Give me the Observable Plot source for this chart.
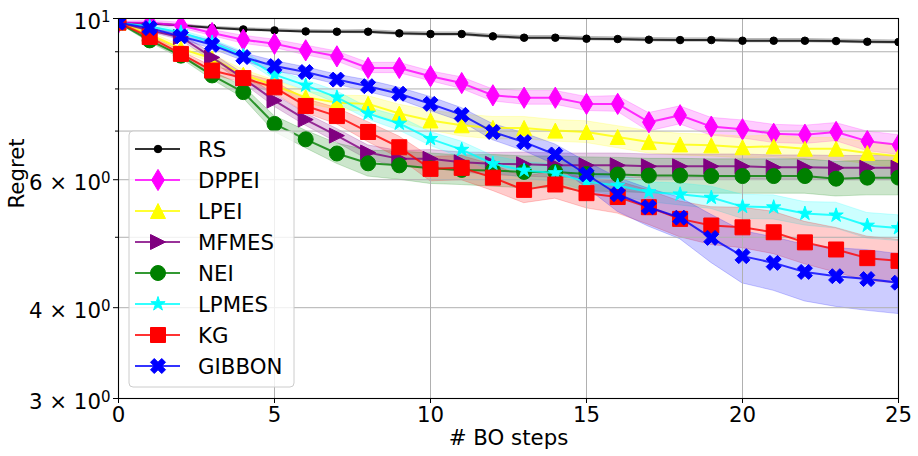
<!DOCTYPE html>
<html><head><meta charset="utf-8">
<script src="https://cdn.jsdelivr.net/npm/d3@7"></script>
<script src="https://cdn.jsdelivr.net/npm/@observablehq/plot@0.6"></script>
<style>
body{margin:0;background:#fff;}
#chart{width:918px;height:456px;}
</style></head><body><div id="chart"></div>
<script>
// ---- data ----
const steps = [0,1,2,3,4,5,6,7,8,9,10,11,12,13,14,15,16,17,18,19,20,21,22,23,24,25];
const seriesNames = ["RS","DPPEI","LPEI","MFMES","NEI","LPMES","KG","GIBBON"];

const rsRegret     = [9.87,9.84,9.78,9.71,9.66,9.63,9.60,9.59,9.59,9.54,9.52,9.52,9.45,9.41,9.41,9.38,9.37,9.35,9.34,9.34,9.32,9.32,9.32,9.31,9.29,9.28];
const dppeiRegret  = [9.87,9.87,9.78,9.55,9.35,9.23,9.04,8.87,8.55,8.55,8.33,8.15,7.84,7.78,7.78,7.63,7.63,7.20,7.36,7.10,7.04,6.94,6.92,6.98,6.78,6.70];
const lpeiRegret   = [9.87,9.51,9.09,8.81,8.37,8.09,7.79,7.66,7.63,7.40,7.24,7.13,7.07,7.07,7.01,6.98,6.87,6.76,6.71,6.69,6.65,6.67,6.62,6.62,6.53,6.46];
const mfmesRegret  = [9.87,9.63,9.43,8.84,8.27,7.71,7.26,6.90,6.54,6.41,6.41,6.34,6.31,6.30,6.28,6.28,6.28,6.26,6.26,6.26,6.26,6.24,6.24,6.23,6.23,6.23];
const neiRegret    = [9.87,9.33,8.89,8.35,7.92,7.16,6.82,6.52,6.32,6.28,6.22,6.19,6.18,6.15,6.15,6.11,6.10,6.08,6.08,6.07,6.07,6.07,6.07,6.02,6.04,6.04];
const lpmesRegret  = [9.87,9.75,9.57,9.27,8.89,8.37,8.09,7.79,7.40,7.17,6.83,6.60,6.31,6.18,6.13,5.96,5.89,5.77,5.73,5.67,5.51,5.50,5.39,5.36,5.19,5.15];
const kgRegret     = [9.87,9.43,8.94,8.48,8.28,8.04,7.58,7.34,6.98,6.65,6.21,6.23,6.04,5.81,5.91,5.75,5.68,5.50,5.30,5.19,5.16,5.08,4.92,4.81,4.68,4.64];
const gibbonRegret = [9.87,9.70,9.45,9.20,8.85,8.60,8.44,8.24,8.07,7.88,7.63,7.37,6.98,6.76,6.50,6.10,5.73,5.50,5.32,4.99,4.71,4.61,4.48,4.42,4.38,4.33];

const rsStd     = [0.01,0.02,0.03,0.03,0.04,0.04,0.04,0.04,0.05,0.05,0.05,0.05,0.05,0.05,0.05,0.05,0.05,0.05,0.05,0.05,0.05,0.05,0.05,0.05,0.05,0.05];
const dppeiStd  = [0.03,0.06,0.09,0.09,0.12,0.12,0.14,0.14,0.14,0.14,0.13,0.15,0.15,0.17,0.17,0.17,0.19,0.21,0.21,0.20,0.20,0.20,0.20,0.20,0.21,0.21];
const lpeiStd   = [0.03,0.06,0.09,0.11,0.13,0.13,0.15,0.17,0.19,0.21,0.23,0.25,0.25,0.25,0.24,0.24,0.24,0.24,0.23,0.23,0.23,0.23,0.23,0.23,0.23,0.23];
const mfmesStd  = [0.03,0.06,0.09,0.11,0.13,0.15,0.14,0.15,0.15,0.16,0.18,0.20,0.22,0.24,0.24,0.24,0.24,0.24,0.24,0.24,0.24,0.24,0.24,0.24,0.24,0.24];
const neiStd    = [0.03,0.06,0.08,0.11,0.15,0.18,0.19,0.21,0.26,0.28,0.30,0.29,0.31,0.31,0.31,0.33,0.33,0.33,0.33,0.33,0.33,0.33,0.33,0.33,0.33,0.33];
const lpmesStd  = [0.03,0.06,0.06,0.09,0.11,0.13,0.13,0.15,0.14,0.16,0.15,0.17,0.16,0.16,0.17,0.17,0.19,0.18,0.20,0.20,0.21,0.21,0.20,0.22,0.21,0.21];
const kgStd     = [0.03,0.06,0.08,0.11,0.13,0.15,0.17,0.19,0.22,0.23,0.24,0.24,0.25,0.24,0.26,0.27,0.29,0.30,0.30,0.31,0.33,0.34,0.33,0.34,0.33,0.32];
const gibbonStd = [0.03,0.06,0.09,0.12,0.11,0.14,0.13,0.13,0.15,0.15,0.17,0.16,0.18,0.19,0.21,0.25,0.31,0.33,0.35,0.38,0.39,0.39,0.40,0.41,0.42,0.41];

const xTicks = [0,5,10,15,20,25];
const yMajorTicks = [3,4,6,10];
const yMinorTicks = [5,7,8,9];
const yGrid = [3,4,5,6,7,8,9,10];

// ---- styles ----
const FS = 21.3;
const seriesColors = ["black","magenta","yellow","purple","green","cyan","red","blue"];
function rOf(s){return Math.sqrt(s/Math.PI);}
const SYM = {
  circle:{draw(c,s){const r=rOf(s);c.moveTo(r,0);c.arc(0,0,r,0,2*Math.PI);c.closePath();}},
  thinDiamond:{draw(c,s){const r=rOf(s);const h=1.4142*r,w=0.6*h;c.moveTo(0,-h);c.lineTo(w,0);c.lineTo(0,h);c.lineTo(-w,0);c.closePath();}},
  triUp:{draw(c,s){const r=rOf(s);c.moveTo(0,-r);c.lineTo(r,r);c.lineTo(-r,r);c.closePath();}},
  triRight:{draw(c,s){const r=rOf(s);c.moveTo(r,0);c.lineTo(-r,r);c.lineTo(-r,-r);c.closePath();}},
  star:{draw(c,s){const r=rOf(s);for(let k=0;k<10;k++){const a=-Math.PI/2+k*Math.PI/5;const rr=k%2?r*0.381966:r;const x=rr*Math.cos(a),y=rr*Math.sin(a);k?c.lineTo(x,y):c.moveTo(x,y);}c.closePath();}},
  square:{draw(c,s){const r=rOf(s);c.rect(-r,-r,2*r,2*r);}},
  xFilled:{draw(c,s){const r=rOf(s);const p=[[-0.5,-1],[0,-0.5],[0.5,-1],[1,-0.5],[0.5,0],[1,0.5],[0.5,1],[0,0.5],[-0.5,1],[-1,0.5],[-0.5,0],[-1,-0.5]];p.forEach(([x,y],k)=>k?c.lineTo(x*r,y*r):c.moveTo(x*r,y*r));c.closePath();}}
};
const seriesSymbols = [SYM.circle,SYM.thinDiamond,SYM.triUp,SYM.triRight,SYM.circle,SYM.star,SYM.square,SYM.xFilled];
const seriesRadii = [3.75,7.5,7.5,7.5,7.5,7.5,7.5,7.5];

const meanArrays = [rsRegret,dppeiRegret,lpeiRegret,mfmesRegret,neiRegret,lpmesRegret,kgRegret,gibbonRegret];
const stdArrays = [rsStd,dppeiStd,lpeiStd,mfmesStd,neiStd,lpmesStd,kgStd,gibbonStd];

const rows = seriesNames.flatMap((name,k)=>steps.map((s,i)=>({series:name, step:s, mean:meanArrays[k][i], std:stdArrays[k][i]})));

const marks = [];
seriesNames.forEach((name,k)=>{
  const d = rows.filter(r=>r.series===name);
  marks.push(Plot.areaY(d,{x:"step", y1:r=>r.mean-r.std, y2:r=>r.mean+r.std, fill:seriesColors[k], fillOpacity:0.2, stroke:seriesColors[k], strokeOpacity:0.2, strokeWidth:1, clip:true}));
});
marks.push(Plot.gridX({ticks:xTicks, stroke:"#b0b0b0", strokeOpacity:1, strokeWidth:1}));
marks.push(Plot.gridY({ticks:yGrid, stroke:"#b0b0b0", strokeOpacity:1, strokeWidth:1}));
seriesNames.forEach((name,k)=>{
  const d = rows.filter(r=>r.series===name);
  marks.push(Plot.line(d,{x:"step", y:"mean", stroke:seriesColors[k], strokeWidth:2, strokeOpacity:0.8, clip:true}));
  marks.push(Plot.dot(d,{x:"step", y:"mean", symbol:seriesSymbols[k], r:seriesRadii[k], fill:seriesColors[k], stroke:seriesColors[k], strokeWidth:1, clip:true}));
});
marks.push(Plot.frame({stroke:"black", strokeWidth:1.1}));
marks.push(Plot.axisX({ticks:xTicks, tickSize:5, tickPadding:3, fontSize:FS, label:null}));
marks.push(Plot.axisY({ticks:yMajorTicks, tickSize:5, tickPadding:3, fontSize:FS, label:null,
  tickFormat:d=> d===10 ? "10^1" : `${d} × 10^0`}));
marks.push(Plot.axisY({ticks:yMinorTicks, tickSize:3, tickFormat:()=>"", label:null}));
marks.push(Plot.text(["# BO steps"],{text:d=>d, frameAnchor:"bottom", dy:40, fontSize:FS, lineAnchor:"middle"}));
marks.push(Plot.text(["Regret"],{text:d=>d, frameAnchor:"left", dx:-101, rotate:-90, fontSize:FS, lineAnchor:"middle"}));

const svgEl = Plot.plot({
  width:918, height:456,
  marginLeft:118, marginRight:20, marginTop:18, marginBottom:58,
  style:{fontFamily:"DejaVu Sans", fontSize:FS+"px", background:"white", color:"black"},
  x:{domain:[0,25]},
  y:{type:"log", domain:[3,10]},
  marks
});
document.getElementById("chart").append(svgEl);

// font size + superscripts for tick labels
const NS = "http://www.w3.org/2000/svg";
svgEl.querySelectorAll("text").forEach(t=>{
  t.style.fontSize = FS+"px";
  t.style.fontFamily = "DejaVu Sans";
  const s = t.textContent;
  if (s.includes("^")) {
    const [base, exp] = s.split("^");
    while (t.firstChild) t.removeChild(t.firstChild);
    const a = document.createElementNS(NS,"tspan"); a.textContent = base; a.setAttribute("dy","0.18em");
    const b = document.createElementNS(NS,"tspan"); b.textContent = exp;
    b.setAttribute("dy","-0.5em"); b.setAttribute("font-size","15");
    t.append(a,b);
  }
});

// legend
const svg = d3.select(svgEl);
const lg = svg.append("g").attr("font-family","DejaVu Sans").attr("font-size",FS).attr("text-anchor","start");
lg.append("rect").attr("x",129).attr("y",131).attr("width",165).attr("height",256).attr("rx",4)
  .attr("fill","white").attr("fill-opacity",0.8).attr("stroke","#cccccc").attr("stroke-width",1);
seriesNames.forEach((name,k)=>{
  const y = 149 + k*31;
  lg.append("line").attr("x1",135).attr("x2",180).attr("y1",y).attr("y2",y)
    .attr("stroke",seriesColors[k]).attr("stroke-width",2).attr("stroke-opacity",0.8);
  lg.append("path").attr("transform",`translate(158,${y})`)
    .attr("d", d3.symbol(seriesSymbols[k], Math.PI*seriesRadii[k]*seriesRadii[k])())
    .attr("fill",seriesColors[k]).attr("stroke",seriesColors[k]).attr("stroke-width",1);
  lg.append("text").attr("x",198).attr("y",y).attr("dy","0.36em").attr("fill","black")
    .style("font-size",FS+"px").style("text-anchor","start").text(name);
});
</script></body></html>
